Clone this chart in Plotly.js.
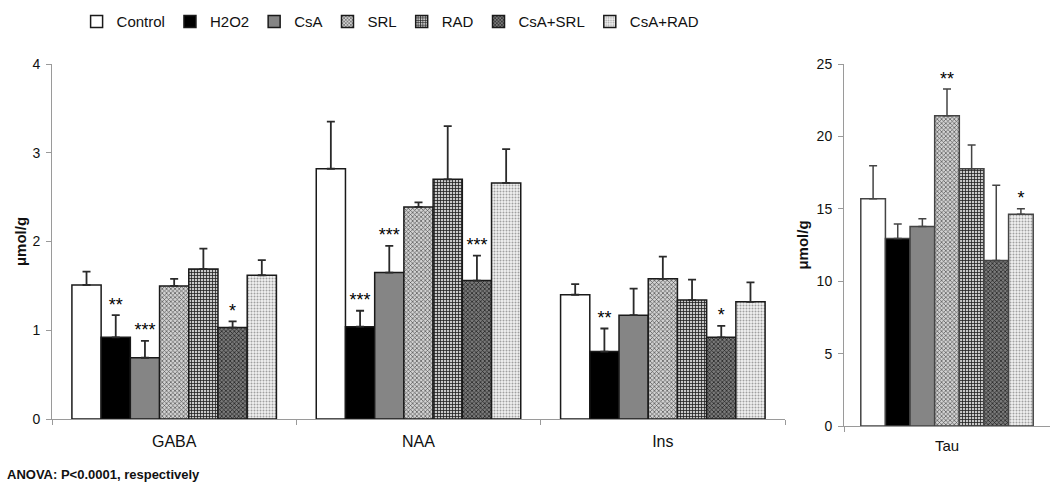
<!DOCTYPE html>
<html>
<head>
<meta charset="utf-8">
<script src="https://cdn.plot.ly/plotly-3.0.1.min.js"></script>
<style>html,body{margin:0;padding:0;background:#fff;}#chart{width:1050px;height:495px;}</style>
</head>
<body>
<div id="chart"></div>
<script>
// ---- data ----
const groups = ['Control', 'H2O2', 'CsA', 'SRL', 'RAD', 'CsA+SRL', 'CsA+RAD'];
const leftCats = ['GABA', 'NAA', 'Ins'];
const rightCats = ['Tau'];

const gabaMeans = [1.51, 0.92, 0.69, 1.50, 1.69, 1.03, 1.62];
const gabaErr   = [0.15, 0.25, 0.19, 0.08, 0.23, 0.07, 0.17];
const naaMeans  = [2.82, 1.04, 1.65, 2.39, 2.70, 1.56, 2.66];
const naaErr    = [0.53, 0.18, 0.30, 0.05, 0.60, 0.28, 0.38];
const insMeans  = [1.40, 0.76, 1.17, 1.58, 1.34, 0.92, 1.32];
const insErr    = [0.12, 0.26, 0.30, 0.25, 0.23, 0.13, 0.22];
const tauMeans  = [15.7, 12.95, 13.77, 21.43, 17.77, 11.43, 14.63];
const tauErr    = [2.28, 1.00, 0.55, 1.84, 1.63, 5.20, 0.37];

const gabaStars = ['', '**', '***', '', '', '*', ''];
const naaStars  = ['', '***', '***', '', '', '***', ''];
const insStars  = ['', '**', '', '', '', '*', ''];
const tauStars  = ['', '', '', '**', '', '', '*'];

const leftTicks = [0, 1, 2, 3, 4];
const rightTicks = [0, 5, 10, 15, 20, 25];

// ---- styles ----
const fills = [
  {color: '#ffffff', pattern: {shape: ''}},
  {color: '#000000', pattern: {shape: ''}},
  {color: '#858585', pattern: {shape: ''}},
  {color: '#d2d2d2', pattern: {shape: 'x', fgcolor: '#505050', bgcolor: '#d2d2d2', size: 3, solidity: 0.4}},
  {color: '#c8c8c8', pattern: {shape: '+', fgcolor: '#1e1e1e', bgcolor: '#c8c8c8', size: 3, solidity: 0.45}},
  {color: '#7a7a7a', pattern: {shape: 'x', fgcolor: '#1a1a1a', bgcolor: '#7a7a7a', size: 3, solidity: 0.4}},
  {color: '#f2f2f2', pattern: {shape: '.', fgcolor: '#a0a0a0', bgcolor: '#f2f2f2', size: 3, solidity: 0.35}}
];
const FONT = 'Liberation Sans, Arial, sans-serif';

const traces = [];
groups.forEach((g, i) => {
  const lv = [gabaMeans[i], naaMeans[i], insMeans[i]];
  const le = [gabaErr[i], naaErr[i], insErr[i]];
  traces.push({
    type: 'bar', name: g, legendgroup: g, offsetgroup: g,
    x: leftCats, y: lv, xaxis: 'x', yaxis: 'y',
    marker: {color: fills[i].color, pattern: fills[i].pattern, line: {color: '#1a1a1a', width: 1.5}},
    error_y: {type: 'data', symmetric: false, array: le, arrayminus: [0, 0, 0], color: '#2a2a2a', thickness: 1.8, width: 4},
    hoverinfo: 'skip'
  });
  traces.push({
    type: 'bar', name: g, legendgroup: g, offsetgroup: g, showlegend: false,
    x: rightCats, y: [tauMeans[i]], xaxis: 'x2', yaxis: 'y2',
    marker: {color: fills[i].color, pattern: fills[i].pattern, line: {color: '#444444', width: 1.5}},
    error_y: {type: 'data', symmetric: false, array: [tauErr[i]], arrayminus: [0], color: '#444444', thickness: 1.5, width: 4},
    hoverinfo: 'skip'
  });
  traces.push({
    type: 'scatter', mode: 'text', showlegend: false, offsetgroup: g,
    x: leftCats, y: lv.map((v, k) => v + le[k]),
    text: [gabaStars[i], naaStars[i], insStars[i]],
    textposition: 'top center', textfont: {family: FONT, size: 18, color: '#000'},
    xaxis: 'x', yaxis: 'y', hoverinfo: 'skip', cliponaxis: false
  });
  traces.push({
    type: 'scatter', mode: 'text', showlegend: false, offsetgroup: g,
    x: rightCats, y: [tauMeans[i] + tauErr[i]],
    text: [tauStars[i]],
    textposition: 'top center', textfont: {family: FONT, size: 18, color: '#000'},
    xaxis: 'x2', yaxis: 'y2', hoverinfo: 'skip', cliponaxis: false
  });
});

const axisCommon = {
  showgrid: false, zeroline: false, showline: true, linecolor: '#9a9a9a', linewidth: 1,
  ticks: 'outside', ticklen: 5, tickcolor: '#9a9a9a', tickfont: {family: FONT, size: 14, color: '#111'},
  fixedrange: true
};

const layout = {
  width: 1050, height: 495,
  margin: {l: 0, r: 0, t: 0, b: 0},
  paper_bgcolor: '#fff', plot_bgcolor: '#fff',
  barmode: 'group', bargap: 0.163, bargroupgap: 0,
  scattermode: 'group', scattergap: 0.163,
  showlegend: true,
  legend: {orientation: 'h', x: 0.372, xanchor: 'center', y: 0.956, yanchor: 'middle',
           font: {family: FONT, size: 15, color: '#111'}, itemwidth: 30, tracegroupgap: 0, traceorder: 'normal'},
  xaxis: Object.assign({}, axisCommon, {domain: [52/1050, 785/1050], anchor: 'y', tickson: 'boundaries',
           ticklabelstandoff: 8, tickfont: {family: FONT, size: 16, color: '#111'}}),
  yaxis: Object.assign({}, axisCommon, {domain: [(495-419)/495, (495-64)/495], anchor: 'x', range: [0, 4],
           tickvals: leftTicks, ticklabelstandoff: 3,
           title: {text: '<b>μmol/g</b>', font: {family: FONT, size: 15, color: '#111'}, standoff: 2}}),
  xaxis2: Object.assign({}, axisCommon, {domain: [844/1050, 1], anchor: 'y2', tickson: 'boundaries',
           ticklabelstandoff: 6, tickfont: {family: FONT, size: 15, color: '#111'}}),
  yaxis2: Object.assign({}, axisCommon, {domain: [(495-426)/495, (495-64)/495], anchor: 'x2', range: [0, 25],
           tickvals: rightTicks, ticklabelstandoff: 3,
           title: {text: '<b>μmol/g</b>', font: {family: FONT, size: 15, color: '#111'}, standoff: 4}}),
  annotations: [
    {xref: 'paper', yref: 'paper', x: 5/1050, y: 1 - 474/495, xanchor: 'left', yanchor: 'middle', showarrow: false,
     text: '<b>ANOVA: P&lt;0.0001, respectively</b>', font: {family: FONT, size: 13, color: '#111'}}
  ]
};

Plotly.newPlot('chart', traces, layout, {staticPlot: true, displayModeBar: false});
</script>
</body>
</html>
